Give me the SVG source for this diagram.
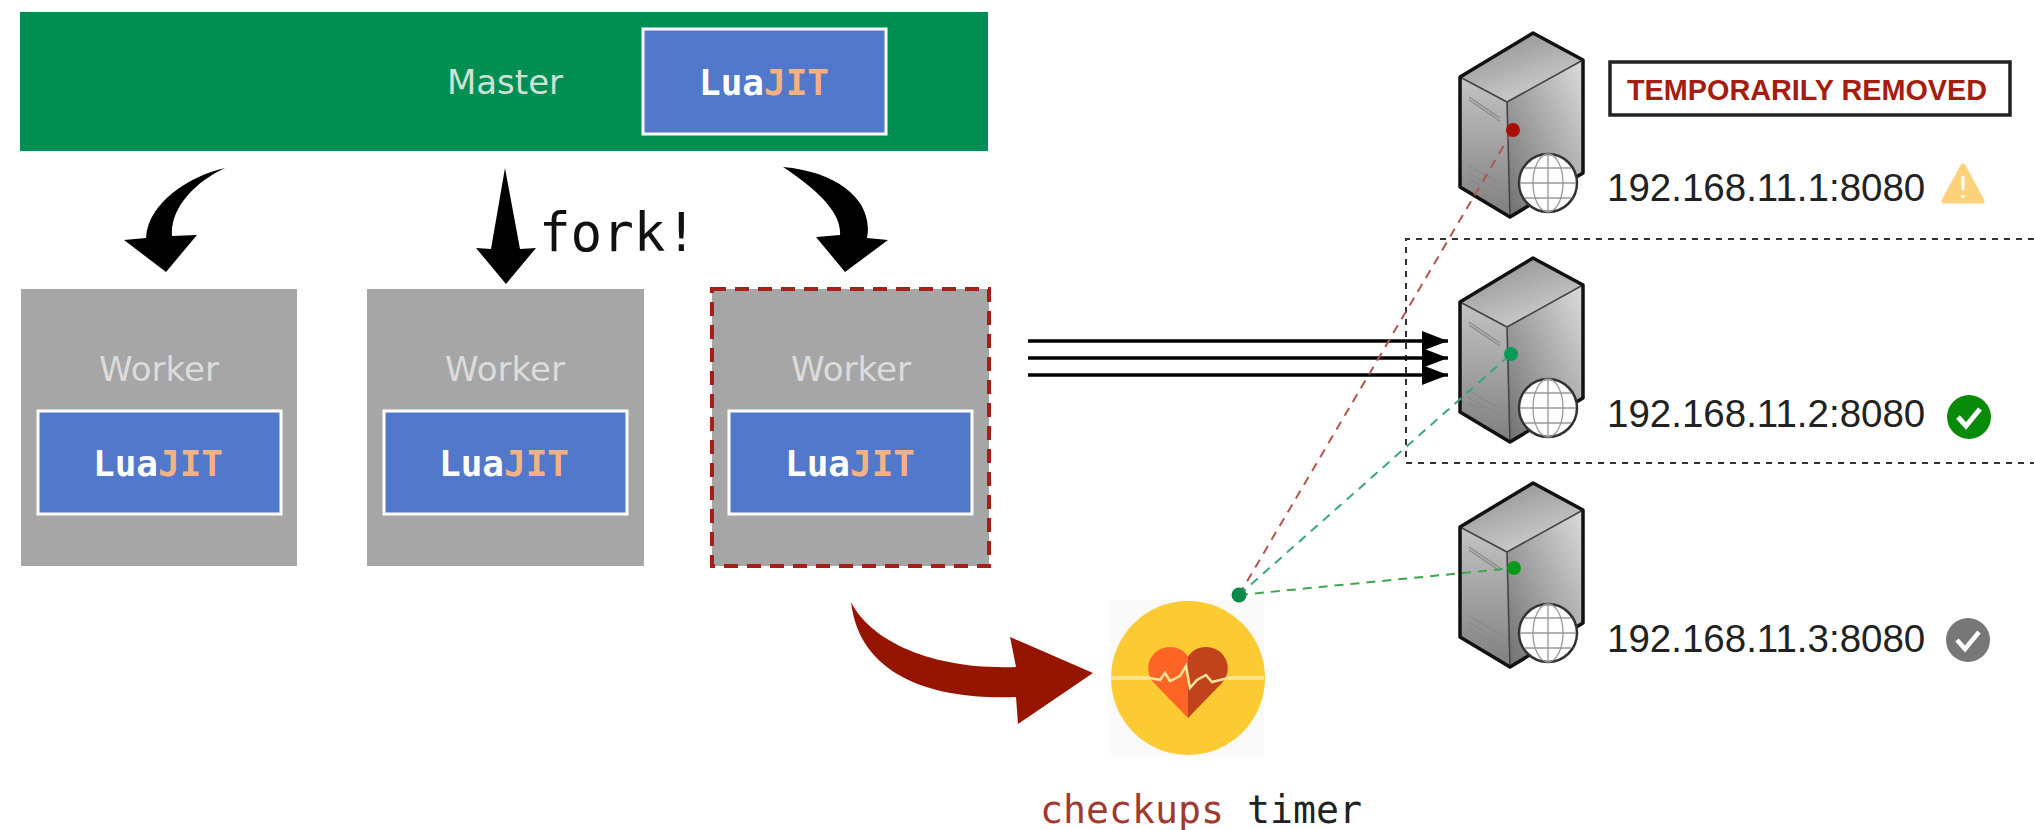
<svg xmlns="http://www.w3.org/2000/svg" xmlns:xlink="http://www.w3.org/1999/xlink" width="2034" height="830" viewBox="0 0 2034 830">
<style>
.worker{fill:#a6a6a6}
.lua{fill:#5278cb;stroke:#fff;stroke-width:3}
.sans{font-family:"DejaVu Sans",sans-serif;font-size:34px;text-anchor:middle}
.mono{font-family:"DejaVu Sans Mono",monospace}
.ljt{font-size:36px;font-weight:bold;text-anchor:middle;fill:#fff}
.jit{fill:#f4b183}
.ip{font-family:"Liberation Sans",Arial,sans-serif;font-size:38.5px;fill:#222}
.fork{fill:#000}
.flow{stroke:#000;stroke-width:3.5;fill:none;marker-end:url(#head)}
.probe{fill:none;stroke-width:2;stroke-dasharray:9 7}
</style>
<defs>
<marker id="head" markerUnits="userSpaceOnUse" markerWidth="28" markerHeight="22" refX="26" refY="11" orient="auto"><path d="M0,1 L26,11 L0,21 Z" fill="#000"/></marker>
<linearGradient id="gTop" x1="0" y1="0" x2="0.6" y2="1"><stop offset="0" stop-color="#8a8a8a"/><stop offset="1" stop-color="#cfcfcf"/></linearGradient>
<linearGradient id="gLeft" x1="0" y1="0" x2="0" y2="1"><stop offset="0" stop-color="#c4c4c4"/><stop offset="1" stop-color="#7f7f7f"/></linearGradient>
<linearGradient id="gRight" x1="0" y1="1" x2="1" y2="0"><stop offset="0" stop-color="#6f6f6f"/><stop offset="1" stop-color="#dcdcdc"/></linearGradient>
<g id="server">
<path d="M1460,77 L1533,33 L1583,60 L1507,102 Z" fill="url(#gTop)"/>
<path d="M1460,77 L1507,102 L1510,217 L1460,187 Z" fill="url(#gLeft)"/>
<path d="M1507,102 L1583,60 L1583,173 L1510,217 Z" fill="url(#gRight)"/>
<path d="M1460,77 L1507,102 L1583,60 M1507,102 L1510,217" fill="none" stroke="#444" stroke-width="1.6"/>
<path d="M1469,97 L1500,118 M1469,100 L1500,121 M1468,165 L1502,185 M1468,172 L1502,192 M1468,178 L1502,198" fill="none" stroke="#8a8a8a" stroke-width="1.4"/>
<path d="M1460,77 L1533,33 L1583,60 L1583,173 L1510,217 L1460,187 Z" fill="none" stroke="#111" stroke-width="3.5" stroke-linejoin="round"/>
<circle cx="1548" cy="183" r="29" fill="#fff" stroke="#333" stroke-width="2.5"/>
<path d="M1548,154 V212 M1520,183 H1576 M1525,168 H1571 M1525,198 H1571" fill="none" stroke="#999" stroke-width="1.3"/>
<ellipse cx="1548" cy="183" rx="15" ry="29" fill="none" stroke="#999" stroke-width="1.3"/>
</g>
</defs>

<g id="master">
<rect x="20" y="12" width="968" height="139" fill="#008f52"/>
<text x="505" y="94" class="sans" fill="#cfe0d5">Master</text>
<rect x="643" y="29" width="243" height="105" class="lua"/>
<text x="764" y="95" class="mono ljt">Lua<tspan class="jit">JIT</tspan></text>
</g>

<g id="worker1">
<rect x="21" y="289" width="276" height="277" class="worker"/>
<text x="159" y="381" class="sans" fill="#dcdcdc">Worker</text>
<rect x="38" y="411" width="243" height="103" class="lua"/>
<text x="158" y="476" class="mono ljt">Lua<tspan class="jit">JIT</tspan></text>
</g>
<g id="worker2">
<rect x="367" y="289" width="277" height="277" class="worker"/>
<text x="505" y="381" class="sans" fill="#dcdcdc">Worker</text>
<rect x="384" y="411" width="243" height="103" class="lua"/>
<text x="504" y="476" class="mono ljt">Lua<tspan class="jit">JIT</tspan></text>
</g>
<g id="worker3">
<rect x="712" y="289" width="277" height="277" class="worker" stroke="#a5201a" stroke-width="4" stroke-dasharray="14 9"/>
<text x="851" y="381" class="sans" fill="#dcdcdc">Worker</text>
<rect x="729" y="411" width="243" height="103" class="lua"/>
<text x="850" y="476" class="mono ljt">Lua<tspan class="jit">JIT</tspan></text>
</g>

<text id="fork-label" x="539" y="251" class="mono" font-size="52.5" fill="#111">fork!</text>

<g id="upstream-group">
<path d="M2034,239 H1406 V463 H2034" fill="none" stroke="#333" stroke-width="2" stroke-dasharray="6 6"/>
</g>

<g id="server1">
<use href="#server" xlink:href="#server"/>
<rect x="1610" y="62" width="400" height="53" fill="#fff" stroke="#222" stroke-width="3.5"/>
<text x="1627" y="100" font-family="'Liberation Sans',Arial,sans-serif" font-size="28.8" font-weight="bold" fill="#a51c10">TEMPORARILY REMOVED</text>
<text x="1607" y="201" class="ip">192.168.11.1:8080</text>
<path d="M1963,166 L1982,201 L1944,201 Z" fill="#fdd27a" stroke="#fdd27a" stroke-width="5" stroke-linejoin="round"/>
<path d="M1963,176 V190 M1963,195 V198" stroke="#fff" stroke-width="3" fill="none"/>
</g>
<g id="server2">
<use href="#server" xlink:href="#server" y="225"/>
<text x="1607" y="427" class="ip">192.168.11.2:8080</text>
<circle cx="1969" cy="417" r="22" fill="#0a8a0a"/>
<path d="M1958,417 L1966,426 L1980,409" fill="none" stroke="#fff" stroke-width="5"/>
</g>
<g id="server3">
<use href="#server" xlink:href="#server" y="450"/>
<text x="1607" y="652" class="ip">192.168.11.3:8080</text>
<circle cx="1968" cy="640" r="22" fill="#777"/>
<path d="M1957,640 L1965,649 L1979,632" fill="none" stroke="#fff" stroke-width="4.5"/>
</g>

<g id="checkups-timer">
<rect x="1111" y="600" width="153" height="156" fill="#fafafa"/>
<circle cx="1188" cy="678" r="77" fill="#fccb33"/>
<path d="M1188,718 L1155,684 C1140,668 1152,647 1170,647 C1178,647 1185,651 1188,657 Z" fill="#fd6425"/>
<path d="M1188,718 L1221,684 C1236,668 1224,647 1206,647 C1198,647 1191,651 1188,657 Z" fill="#c0431c"/>
<path d="M1111,678 H1150 L1160,680 L1165,673 L1170,681 L1180,676 L1186,666 L1190,688 L1197,680 L1206,675 L1212,682 L1228,678 H1264" fill="none" stroke="#fde39a" stroke-width="2.5"/>
<path d="M1111,678 H1149 M1228,678 H1264" fill="none" stroke="#fbe28e" stroke-width="4"/>
<text x="1040" y="823" class="mono" font-size="38.2" fill="#222"><tspan fill="#a03a30">checkups</tspan> timer</text>
</g>

<g id="connectors">
<path class="fork" d="M225,168 C190,176 148,202 146,238 L124,240 L166,272 L197,235 L172,236 C170,208 195,182 225,168 Z"/>
<path class="fork" d="M505,168 L491,249 L476,248 L506,284 L536,248 L520,249 Z"/>
<path class="fork" d="M783,167 C840,172 874,202 867,238 L888,240 L845,272 L816,237 L840,235 C842,212 815,188 783,167 Z"/>
<path class="flow" d="M1028,341 H1448"/>
<path class="flow" d="M1028,358 H1448"/>
<path class="flow" d="M1028,375 H1448"/>
<path d="M851,602 C870,640 930,670 1016,667 L1010,637 L1093,673 L1018,724 L1016,697 C940,700 860,680 851,602 Z" fill="#951500"/>
<path class="probe" d="M1239,595 L1513,130" stroke="#b5544c"/>
<path class="probe" d="M1239,595 L1511,354" stroke="#3aa878"/>
<path class="probe" d="M1239,595 L1514,568" stroke="#3aa84a" stroke-width="3.5" stroke-dasharray="6 5"/>
<circle cx="1513" cy="130" r="7" fill="#a80f00"/>
<circle cx="1511" cy="354" r="7" fill="#0a9a55"/>
<circle cx="1514" cy="568" r="7" fill="#0a9a1a"/>
<circle cx="1239" cy="595" r="7.5" fill="#0a8a4a"/>
</g>
</svg>
